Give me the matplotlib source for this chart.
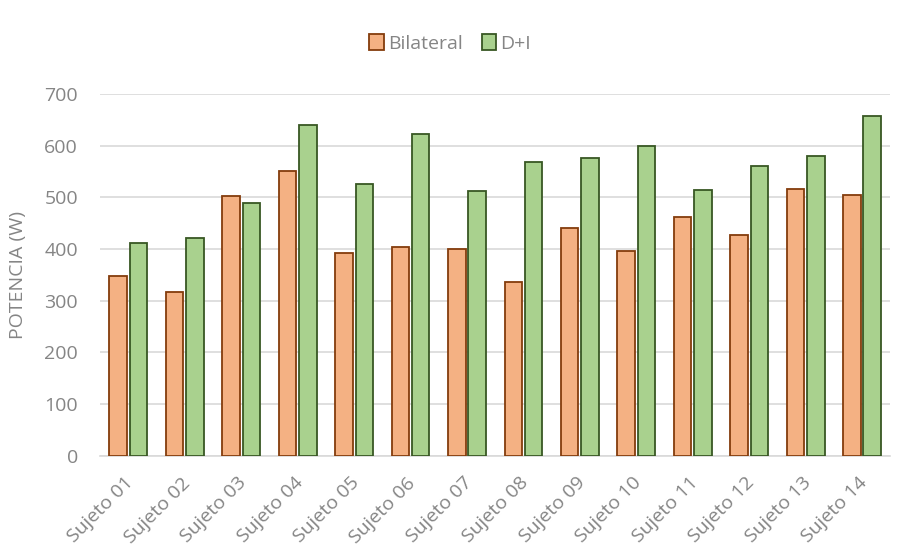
import matplotlib
matplotlib.use("Agg")
import matplotlib.pyplot as plt
import matplotlib.transforms as mtrans
import numpy as np

sujetos = ["Sujeto 01", "Sujeto 02", "Sujeto 03", "Sujeto 04", "Sujeto 05", "Sujeto 06", "Sujeto 07",
           "Sujeto 08", "Sujeto 09", "Sujeto 10", "Sujeto 11", "Sujeto 12", "Sujeto 13", "Sujeto 14"]
bilateral = [348, 317, 503, 552, 393, 405, 401, 337, 440, 397, 463, 428, 517, 504]
d_mas_i = [411, 422, 489, 641, 526, 623, 513, 569, 577, 599, 515, 561, 580, 658]

plt.rcParams['font.family'] = ['Open Sans', 'DejaVu Sans']
gris = "#858585"
fs = 14

fig = plt.figure(figsize=(9.02, 5.6), dpi=100)
ax = fig.add_axes([0.111, 0.186, 0.876, 0.646])

x = np.arange(len(sujetos))
w = 0.31
ax.bar(x - 0.18, bilateral, w, color="#F4B183", edgecolor="#843C0C", linewidth=1.3, label="Bilateral", zorder=3)
ax.bar(x + 0.18, d_mas_i, w, color="#A9D18E", edgecolor="#385723", linewidth=1.3, label="D+I", zorder=3)

ax.set_ylim(0, 700)
ax.set_xlim(-0.5, len(sujetos) - 0.5)
ax.set_yticks(range(0, 701, 100))
ax.yaxis.grid(True, color="#d9d9d9", linewidth=1.2, zorder=0)
for s in ["top", "right", "left"]:
    ax.spines[s].set_visible(False)
ax.spines["bottom"].set_color("#d9d9d9")
ax.spines["bottom"].set_linewidth(1.2)
ax.tick_params(axis="both", length=0, colors=gris, labelsize=fs)
ax.tick_params(axis="y", pad=16)
ax.set_xticks(x)
ax.set_xticklabels(sujetos, rotation=45, ha="right", rotation_mode="anchor")
ax.tick_params(axis="x", pad=13)
desplaza = mtrans.ScaledTranslation(-4 / 100, 0, fig.dpi_scale_trans)
for lbl in ax.get_xticklabels():
    lbl.set_transform(lbl.get_transform() + desplaza)
ax.set_ylabel("POTENCIA (W)", color=gris, fontsize=fs, labelpad=12)

fig.legend(loc="center", bbox_to_anchor=(0.499, 0.922), ncol=2, frameon=False,
           fontsize=fs, labelcolor=gris, handlelength=0.75, handleheight=0.9,
           handletextpad=0.2, columnspacing=1.0)

fig.savefig("out.png", dpi=100)
